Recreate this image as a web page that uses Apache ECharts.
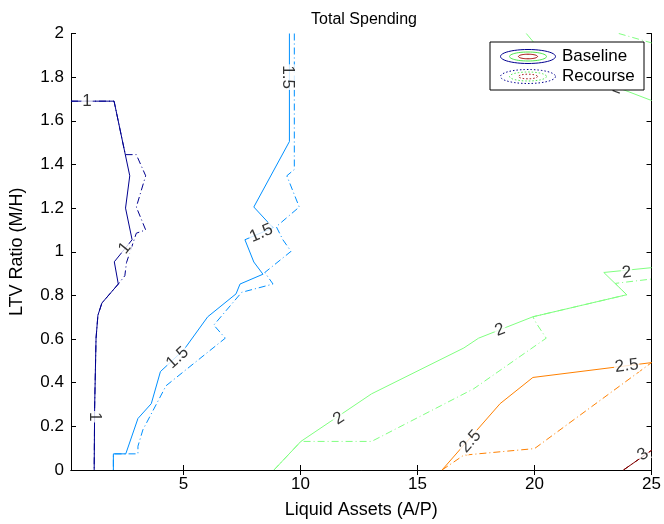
<!DOCTYPE html>
<html>
<head>
<meta charset="utf-8">
<script src="https://cdn.jsdelivr.net/npm/echarts@6/dist/echarts.min.js"></script>
<style>
  html, body { margin: 0; padding: 0; background: #fff; }
  #chart { width: 664px; height: 524px; }
</style>
</head>
<body>
<div id="chart"></div>
<script>
// contour levels and their jet colours
const levels = [1, 1.5, 2, 2.5, 3];
const levelColors = ['#00008F', '#0090FF', '#80FF80', '#FF8000', '#800000'];

// baseline contours (solid), [A/P, M/H]
const base1 = [[0.2, 1.69], [2.04, 1.69], [2.71, 1.348], [2.53, 1.2], [2.81, 1.055], [2.05, 0.954], [2.22, 0.852], [1.52, 0.765], [1.35, 0.709], [1.27, 0.604], [1.21, 0.289], [1.19, 0]];
const base15 = [[9.53, 2.0], [9.53, 1.505], [8.01, 1.205], [8.83, 1.11], [7.63, 1.055], [8.01, 0.953], [8.4, 0.897], [7.42, 0.852], [7.25, 0.807], [6.04, 0.702], [5.03, 0.552], [4.02, 0.451], [3.63, 0.304], [3.06, 0.236], [2.54, 0.074], [2.01, 0.074], [2.01, 0]];
const base2 = [[8.87, 0], [10.02, 0.131], [13.04, 0.349], [16.98, 0.559], [17.61, 0.604], [19.93, 0.702], [23.94, 0.803], [22.96, 0.905], [25, 0.927]];
const base2b = [[19.65, 2.0], [20.0, 1.955], [23.0, 1.775], [25, 1.693]];
const base25 = [[16.05, 0], [18.53, 0.304], [19.93, 0.424], [25, 0.492]];
const base3 = [[23.8, 0], [25, 0.09]];

// recourse contours (dash-dot)
const rec1 = [[0.2, 1.69], [2.04, 1.69], [2.52, 1.445], [2.99, 1.445], [3.39, 1.348], [2.99, 1.205], [3.39, 1.1], [2.99, 1.085], [2.57, 0.95], [2.5, 0.89], [2.22, 0.852], [1.52, 0.765], [1.35, 0.709], [1.27, 0.604], [1.21, 0.289], [1.19, 0]];
const rec15 = [[9.74, 2.0], [9.74, 1.377], [9.42, 1.348], [9.95, 1.205], [8.97, 1.115], [9.25, 1.055], [9.6, 1.002], [8.48, 0.905], [8.83, 0.852], [7.49, 0.814], [6.3, 0.664], [6.79, 0.604], [4.26, 0.386], [3.27, 0.184], [3.06, 0.109], [3.06, 0.074], [2.54, 0.074], [2.01, 0.074], [2.01, 0]];
const rec2 = [[8.87, 0], [10.02, 0.131], [13.04, 0.131], [17.4, 0.372], [20.5, 0.604], [20.08, 0.672], [19.93, 0.702], [23.94, 0.803], [23.45, 0.855], [25, 0.875]];
const rec2b = [[23.6, 2.0], [25, 1.957]];
const rec25 = [[16.05, 0], [16.98, 0.068], [20.0, 0.098], [25, 0.492]];
const rec3 = [[23.8, 0], [25, 0.09]];

// contour labels
const labelPos = [[0.88, 1.69], [2.5, 1.017], [1.21, 0.244], [9.46, 1.8], [8.33, 1.085], [4.75, 0.514], [11.64, 0.236], [18.53, 0.642], [23.94, 0.905], [23.55, 1.75], [17.26, 0.131], [23.94, 0.477], [24.64, 0.071]];
const labelText = ['1', '1', '1', '1.5', '1.5', '1.5', '2', '2', '2', '2', '2.5', '2.5', '3'];
const labelAngle = [0, 51, -90, -90, 23, 43, 34, 21, 6, -20, 49, 7, 34];

const xTicks = [5, 10, 15, 20, 25];

const font = 'Liberation Sans, Arial, Helvetica, sans-serif';

function contour(data, color, dashed) {
  return {
    type: 'line',
    data: data,
    showSymbol: false,
    silent: true,
    animation: false,
    lineStyle: { color: color, width: 1, type: dashed ? [7, 3, 1, 3] : 'solid' },
    z: dashed ? 2 : 3
  };
}

// points of an ellipse outline for the legend icons
function ellipse(cx, cy, rx, ry) {
  const pts = [];
  for (let i = 0; i < 48; i++) {
    const a = i / 48 * Math.PI * 2;
    pts.push([cx + rx * Math.cos(a), cy + ry * Math.sin(a)]);
  }
  return pts;
}

function legendIcon(cy, dashed) {
  const dash = dashed ? [1.5, 2] : null;
  const rings = [[27.5, 7, levelColors[0]], [18.5, 4.5, '#50E850'], [9.5, 2.3, '#A00000']];
  return rings.map(r => ({
    type: 'polygon',
    z: 11,
    shape: { points: ellipse(528, cy, r[0], r[1]) },
    style: { fill: null, stroke: r[2], lineWidth: 1, lineDash: dash }
  }));
}

const series = [
  contour(rec1, levelColors[0], true),
  contour(rec15, levelColors[1], true),
  contour(rec2, levelColors[2], true),
  contour(rec2b, levelColors[2], true),
  contour(rec25, levelColors[3], true),
  contour(rec3, levelColors[4], true),
  contour(base1, levelColors[0], false),
  contour(base15, levelColors[1], false),
  contour(base2, levelColors[2], false),
  contour(base2b, levelColors[2], false),
  contour(base25, levelColors[3], false),
  contour(base3, levelColors[4], false),
  {
    type: 'scatter',
    symbolSize: 0,
    silent: true,
    animation: false,
    z: 5,
    data: labelPos.map((p, i) => ({
      value: p,
      name: labelText[i],
      label: { rotate: labelAngle[i] }
    })),
    label: {
      show: true,
      position: 'inside',
      formatter: (p) => p.name,
      color: '#000',
      fontFamily: font,
      fontSize: 17,
      lineHeight: 15,
      backgroundColor: '#fff',
      padding: [0, 1]
    }
  }
];

const chart = echarts.init(document.getElementById('chart'), null, { renderer: 'canvas' });

const option = {
  backgroundColor: '#fff',
  animation: false,
  title: {
    text: 'Total Spending',
    left: 359,
    top: 7,
    textAlign: 'center',
    textStyle: { fontFamily: font, fontSize: 16, fontWeight: 'normal', color: '#000' }
  },
  grid: { left: 65, right: 11, top: 33.5, bottom: 46.5 },
  xAxis: [{
    type: 'value',
    min: 0.2,
    max: 25,
    name: 'Liquid Assets (A/P)',
    nameLocation: 'middle',
    nameGap: 31,
    nameTextStyle: { fontFamily: font, fontSize: 18, color: '#000' },
    axisLine: { lineStyle: { color: '#000', width: 1 } },
    axisTick: { inside: true, length: 5, customValues: xTicks, lineStyle: { color: '#000' } },
    axisLabel: { customValues: xTicks, fontFamily: font, fontSize: 17, color: '#000', margin: 6 },
    splitLine: { show: false }
  }, {
    type: 'value',
    position: 'top',
    min: 0.2,
    max: 25,
    axisLine: { lineStyle: { color: '#000', width: 1 } },
    axisTick: { inside: true, length: 5, customValues: xTicks, lineStyle: { color: '#000' } },
    axisLabel: { show: false },
    splitLine: { show: false }
  }],
  yAxis: [{
    type: 'value',
    min: 0,
    max: 2,
    interval: 0.2,
    name: 'LTV Ratio (M/H)',
    nameLocation: 'middle',
    nameGap: 45,
    nameTextStyle: { fontFamily: font, fontSize: 18, color: '#000' },
    axisLine: { show: true, lineStyle: { color: '#000', width: 1 } },
    axisTick: { show: true, inside: true, length: 5, lineStyle: { color: '#000' } },
    axisLabel: { fontFamily: font, fontSize: 17, color: '#000', margin: 7 },
    splitLine: { show: false }
  }, {
    type: 'value',
    position: 'right',
    min: 0,
    max: 2,
    interval: 0.2,
    axisLine: { show: true, lineStyle: { color: '#000', width: 1 } },
    axisTick: { show: true, inside: true, length: 5, lineStyle: { color: '#000' } },
    axisLabel: { show: false },
    splitLine: { show: false }
  }],
  series: series,
  graphic: [
    { type: 'rect', z: 10, shape: { x: 490, y: 42, width: 154, height: 48 }, style: { fill: '#fff', stroke: '#000', lineWidth: 1 } }
  ].concat(legendIcon(56.5, false), legendIcon(76.5, true), [
    { type: 'text', x: 562, y: 56.5, z: 11, style: { text: 'Baseline', font: '17px ' + font, fill: '#000', textVerticalAlign: 'middle' } },
    { type: 'text', x: 562, y: 76.5, z: 11, style: { text: 'Recourse', font: '17px ' + font, fill: '#000', textVerticalAlign: 'middle' } }
  ])
};

chart.setOption(option);
</script>
</body>
</html>
